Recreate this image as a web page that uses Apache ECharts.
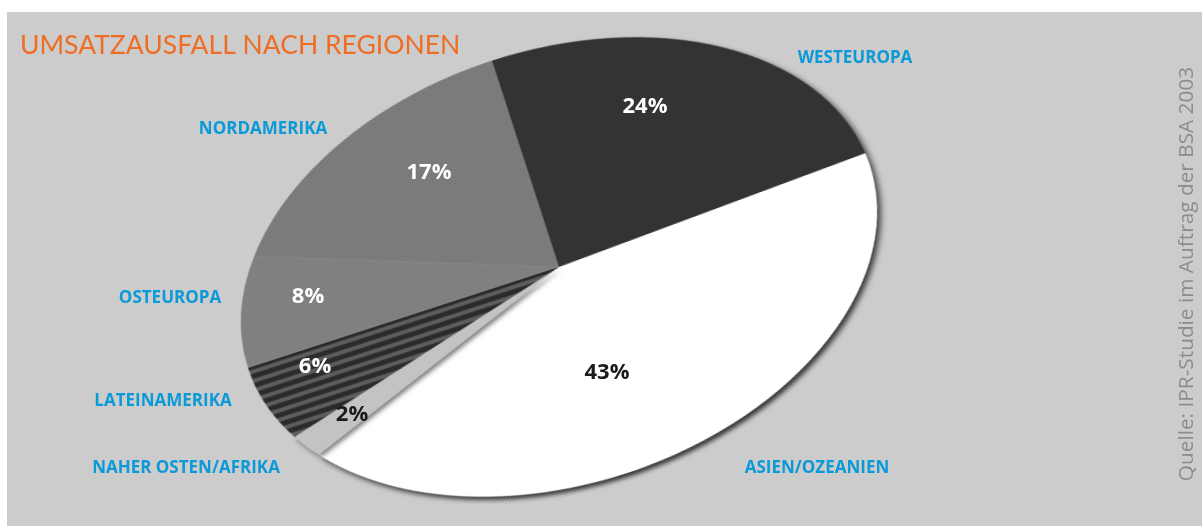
<!DOCTYPE html>
<html>
<head>
<meta charset="utf-8">
<script src="https://cdn.jsdelivr.net/npm/echarts@6/dist/echarts.min.js"></script>
<style>
  html, body { margin: 0; padding: 0; background: #fff; }
  #stage { position: relative; width: 1202px; height: 526px; overflow: hidden; }
  #bg { position: absolute; left: 7px; top: 12px; right: 0; bottom: 0; background: #cccccc; }
  #pie {
    position: absolute; left: 319px; top: 27px; width: 480px; height: 480px;
    transform-origin: 50% 50%;
    transform: rotate(-18deg) scaleX(1.507);
  }
  #texts { position: absolute; left: 0; top: 0; width: 1202px; height: 526px; }
</style>
</head>
<body>
<div id="stage">
  <div id="bg"></div>
  <div id="pie"></div>
  <div id="texts"></div>
</div>
<script>
// data, clockwise from top
const regions = ['WESTEUROPA', 'ASIEN/OZEANIEN', 'NAHER OSTEN/AFRIKA', 'LATEINAMERIKA', 'OSTEUROPA', 'NORDAMERIKA']
const shares = [24, 43, 2, 6, 8, 17]

const title = 'UMSATZAUSFALL NACH REGIONEN'
const source = 'Quelle: IPR-Studie im Auftrag der BSA 2003'

// layout of the hand placed labels (same order as regions)
const namePos = [[855, 58], [817, 468], [186, 468], [163, 401], [170, 298], [263, 129]]
const pctPos = [[645, 107], [607, 373], [352, 415], [315, 367], [308, 297], [429, 173]]
const pctColor = ['#fff', '#1b1b1b', '#1b1b1b', '#fff', '#fff', '#fff']

function dotPattern() {
  const c = document.createElement('canvas')
  c.width = 4
  c.height = 4
  const ctx = c.getContext('2d')
  ctx.fillStyle = '#7a7a7a'
  ctx.fillRect(0, 0, 4, 4)
  ctx.fillStyle = '#888888'
  ctx.fillRect(0, 0, 1, 1)
  ctx.fillRect(2, 2, 1, 1)
  return c
}

function stripePattern() {
  const c = document.createElement('canvas')
  c.width = 8
  c.height = 9
  const ctx = c.getContext('2d')
  ctx.fillStyle = '#2b2b2b'
  ctx.fillRect(0, 0, 8, 9)
  ctx.fillStyle = '#5e5e5e'
  ctx.fillRect(0, 0, 8, 4)
  return c
}

const fills = [
  '#333333',
  '#ffffff',
  '#c3c3c3',
  { image: stripePattern(), repeat: 'repeat' },
  '#808080',
  { image: dotPattern(), repeat: 'repeat' }
]

const shadow = [
  { shadowColor: 'rgba(0,0,0,0.75)', shadowBlur: 5, shadowOffsetX: 1.5, shadowOffsetY: 4 },
  { shadowColor: 'rgba(0,0,0,0.75)', shadowBlur: 5, shadowOffsetX: 1.5, shadowOffsetY: 4 },
  { shadowColor: 'rgba(0,0,0,0.5)', shadowBlur: 4, shadowOffsetX: 1, shadowOffsetY: 3 },
  {}, {}, {}
]

const pieChart = echarts.init(document.getElementById('pie'), null, { devicePixelRatio: 2 })
pieChart.setOption({
  animation: false,
  series: [{
    type: 'pie',
    silent: true,
    center: ['50%', '50%'],
    radius: [0, 217],
    startAngle: 90,
    clockwise: true,
    label: { show: false },
    labelLine: { show: false },
    data: regions.map((name, i) => ({
      name: name,
      value: shares[i],
      itemStyle: Object.assign({ color: fills[i], borderWidth: 0 }, shadow[i])
    }))
  }]
})

const textChart = echarts.init(document.getElementById('texts'))
const elements = [
  {
    type: 'text', x: 20, y: 45,
    style: {
      text: title, fill: '#ef6d23', font: '400 26.5px Lato, "Open Sans", sans-serif',
      align: 'left', verticalAlign: 'middle'
    }
  },
  {
    type: 'text', x: 1187, y: 274, rotation: Math.PI / 2,
    style: {
      text: source, fill: '#8c8c8c', font: '400 20.8px "Open Sans", sans-serif',
      align: 'center', verticalAlign: 'middle'
    }
  }
]
regions.forEach((name, i) => {
  elements.push({
    type: 'text', x: namePos[i][0], y: namePos[i][1],
    style: {
      text: name, fill: '#0a9ad8', font: 'bold 17px "Open Sans", sans-serif',
      align: 'center', verticalAlign: 'middle'
    }
  })
  elements.push({
    type: 'text', x: pctPos[i][0], y: pctPos[i][1],
    style: {
      text: shares[i] + '%', fill: pctColor[i], font: 'bold 22px "Open Sans", sans-serif',
      align: 'center', verticalAlign: 'middle'
    }
  })
})
textChart.setOption({ animation: false, graphic: { elements: elements } })
</script>
</body>
</html>
